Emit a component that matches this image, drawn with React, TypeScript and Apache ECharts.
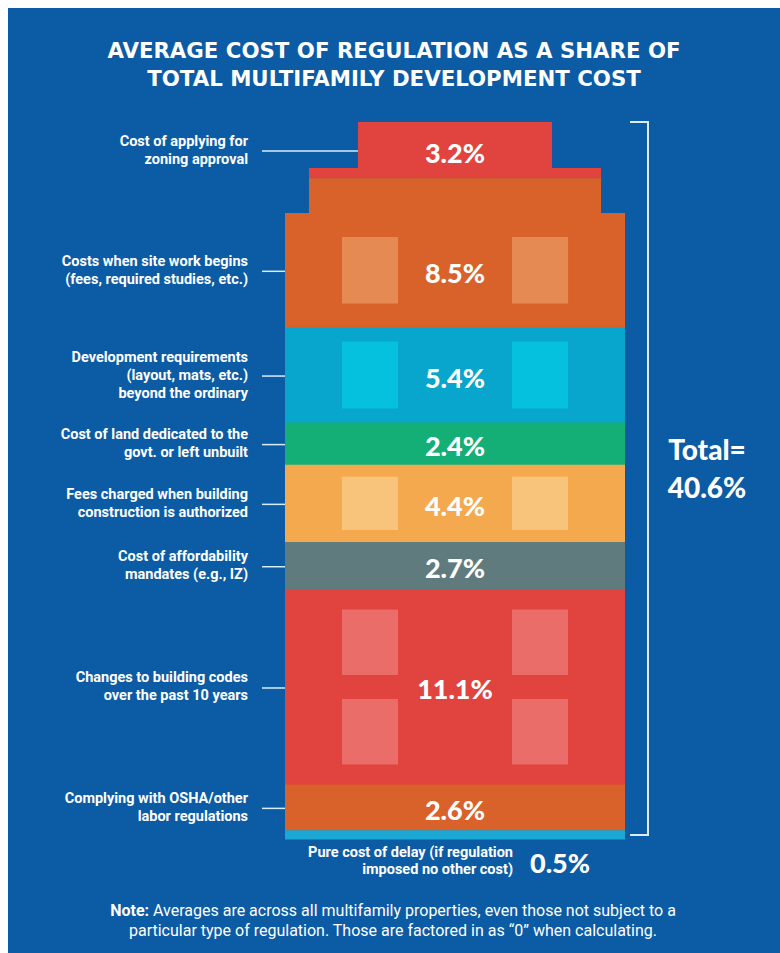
import React, { useEffect, useRef } from "react";
import * as echarts from "echarts";

// ---- data ----
const labels: string[] = [
  "Cost of applying for\nzoning approval",
  "Costs when site work begins\n(fees, required studies, etc.)",
  "Development requirements\n(layout, mats, etc.)\nbeyond the ordinary",
  "Cost of land dedicated to the\ngovt. or left unbuilt",
  "Fees charged when building\nconstruction is authorized",
  "Cost of affordability\nmandates (e.g., IZ)",
  "Changes to building codes\nover the past 10 years",
  "Complying with OSHA/other\nlabor regulations",
  "Pure cost of delay (if regulation\nimposed no other cost)",
];
const values: number[] = [3.2, 8.5, 5.4, 2.4, 4.4, 2.7, 11.1, 2.6, 0.5];
const totalValue = 40.6;
const titleLines: string[] = [
  "AVERAGE COST OF REGULATION AS A SHARE OF",
  "TOTAL MULTIFAMILY DEVELOPMENT COST",
];
const noteBold = "Note:";
const noteLines: string[] = [
  " Averages are across all multifamily properties, even those not subject to a",
  "particular type of regulation. Those are factored in as \u201C0\u201D when calculating.",
];

// ---- styles ----
const BG = "#0b5ba5";
const colors = ["#e1433f", "#d9622a", "#08a5cd", "#13af76", "#f5a94f", "#607b7e", "#e1433f", "#d9622a", "#1ba8d4"];
const windowColors = ["", "#e48a52", "#05c1dd", "", "#f8c47c", "", "#ea6d69", "", ""];
const windowRows = [0, 1, 1, 0, 1, 0, 2, 0, 0];
const windowPad = [0, 24, 14, 0, 12, 0, 20, 0, 0];
const TIERS = [
  { from: 0, to: 46, half: 0.571 },
  { from: 46, to: 91, half: 0.859 },
  { from: 91, to: 100000, half: 1 },
];
const LINE = "#d8edf8";
const LABEL_FONT = "Roboto, 'Open Sans', sans-serif";
const PCT_FONT = "Lato, 'Open Sans', sans-serif";
const LABEL_SIZE = 14.5;
const PCT_SIZE = 27;

const stackData = (() => {
  let acc = 0;
  return values.map((v, i) => {
    const s = acc;
    acc += v;
    return [i, s, acc];
  });
})();
const stackMax = values.reduce((a, b) => a + b, 0);

const renderItem = (params: any, api: any) => {
  const i = api.value(0) as number;
  const cs = params.coordSys;
  const hw = cs.width / 2;
  const cx = cs.x + hw;
  const top = api.coord([0, 0])[1];
  const y0 = api.coord([0, api.value(1)])[1];
  const y1 = api.coord([0, api.value(2)])[1];
  const children: any[] = [];
  for (const t of TIERS) {
    const a = Math.max(y0, top + t.from);
    const b = Math.min(y1, top + t.to);
    if (b > a) {
      children.push({
        type: "rect",
        shape: { x: cx - hw * t.half, y: a, width: 2 * hw * t.half, height: b - a + 0.5 },
        style: { fill: colors[i] },
      });
    }
  }
  const bodyTop = Math.max(y0, top + TIERS[2].from);
  const rows = windowRows[i];
  if (rows > 0) {
    const pad = windowPad[i];
    const gap = 24;
    const h = (y1 - bodyTop - 2 * pad - gap * (rows - 1)) / rows;
    for (let r = 0; r < rows; r++) {
      const wy = bodyTop + pad + r * (h + gap);
      for (const [f0, f1] of [[-0.665, -0.335], [0.335, 0.665]]) {
        children.push({
          type: "rect",
          shape: { x: cx + hw * f0, y: wy, width: hw * (f1 - f0), height: h },
          style: { fill: windowColors[i] },
        });
      }
    }
  }
  const isLast = i === values.length - 1;
  const pct = values[i].toFixed(1) + "%";
  if (!isLast) {
    const lc = y1 > top + TIERS[2].from ? (bodyTop + y1) / 2 : (y0 + y1) / 2;
    const tier = TIERS.find((t) => lc - top >= t.from && lc - top < t.to) || TIERS[2];
    children.push({
      type: "text",
      style: {
        text: pct,
        x: cx,
        y: lc + 2,
        align: "center",
        verticalAlign: "middle",
        fill: "#ffffff",
        fontFamily: PCT_FONT,
        fontWeight: 900,
        fontSize: PCT_SIZE,
      },
    });
    children.push({
      type: "line",
      shape: { x1: cs.x - 23, y1: lc + 1, x2: cx - hw * tier.half, y2: lc + 1 },
      style: { stroke: LINE, lineWidth: 1.5 },
    });
    children.push({
      type: "text",
      style: {
        text: labels[i],
        x: cs.x - 37,
        y: lc,
        align: "right",
        verticalAlign: "middle",
        fill: "#ffffff",
        fontFamily: LABEL_FONT,
        fontWeight: "bold",
        fontSize: LABEL_SIZE,
        lineHeight: 18,
      },
    });
  } else {
    children.push({
      type: "text",
      style: {
        text: labels[i],
        x: cx + 58,
        y: y1 + 22,
        align: "right",
        verticalAlign: "middle",
        fill: "#ffffff",
        fontFamily: LABEL_FONT,
        fontWeight: "bold",
        fontSize: LABEL_SIZE,
        lineHeight: 17,
      },
    });
    children.push({
      type: "text",
      style: {
        text: pct,
        x: cx + 75,
        y: y1 + 23,
        align: "left",
        verticalAlign: "middle",
        fill: "#ffffff",
        fontFamily: PCT_FONT,
        fontWeight: 900,
        fontSize: PCT_SIZE,
      },
    });
  }
  return { type: "group", children };
};

export default function App() {
  const ref = useRef<HTMLDivElement>(null);
  useEffect(() => {
    if (!ref.current) return;
    const chart = echarts.init(ref.current, undefined, { renderer: "svg" });
    const noteStyle = { fill: "#ffffff", fontFamily: LABEL_FONT, fontSize: 16, fontWeight: "normal" };
    chart.setOption({
      animation: false,
      backgroundColor: BG,
      grid: { left: 277, width: 340, top: 114, height: 717 },
      xAxis: { type: "value", min: 0, max: 1, show: false },
      yAxis: { type: "value", min: 0, max: stackMax, inverse: true, show: false },
      series: [
        {
          type: "custom",
          name: "Cost of regulation",
          renderItem,
          data: stackData,
          encode: { x: 0, y: [1, 2] },
          clip: false,
        },
      ],
      graphic: [
        {
          type: "text",
          style: {
            text: titleLines.join("\n"),
            x: 386,
            y: 56,
            align: "center",
            verticalAlign: "middle",
            fill: "#ffffff",
            fontFamily: "'DejaVu Sans', sans-serif",
            fontWeight: "bold",
            fontSize: 21.3,
            lineHeight: 28,
          },
        },
        {
          type: "polyline",
          shape: { points: [[622, 114], [640, 114], [640, 827], [622, 827]] },
          style: { stroke: LINE, lineWidth: 2, fill: "none" },
        },
        {
          type: "text",
          style: {
            text: "Total=\n" + totalValue.toFixed(1) + "%",
            x: 699,
            y: 460,
            align: "center",
            verticalAlign: "middle",
            fill: "#ffffff",
            fontFamily: PCT_FONT,
            fontWeight: 900,
            fontSize: 28,
            lineHeight: 38,
          },
        },
        {
          type: "text",
          style: {
            text: "{b|" + noteBold + "}{n|" + noteLines[0] + "}\n{n|" + noteLines[1] + "}",
            x: 385,
            y: 912,
            align: "center",
            verticalAlign: "middle",
            ...noteStyle,
            lineHeight: 20,
            rich: {
              b: { ...noteStyle, fontWeight: "bold", lineHeight: 20 },
              n: { ...noteStyle, lineHeight: 20 },
            },
          },
        },
      ],
    });
    return () => chart.dispose();
  }, []);
  return (
    <div
      ref={ref}
      style={{ position: "absolute", left: 8, top: 8, width: 772, height: 945 }}
    />
  );
}
